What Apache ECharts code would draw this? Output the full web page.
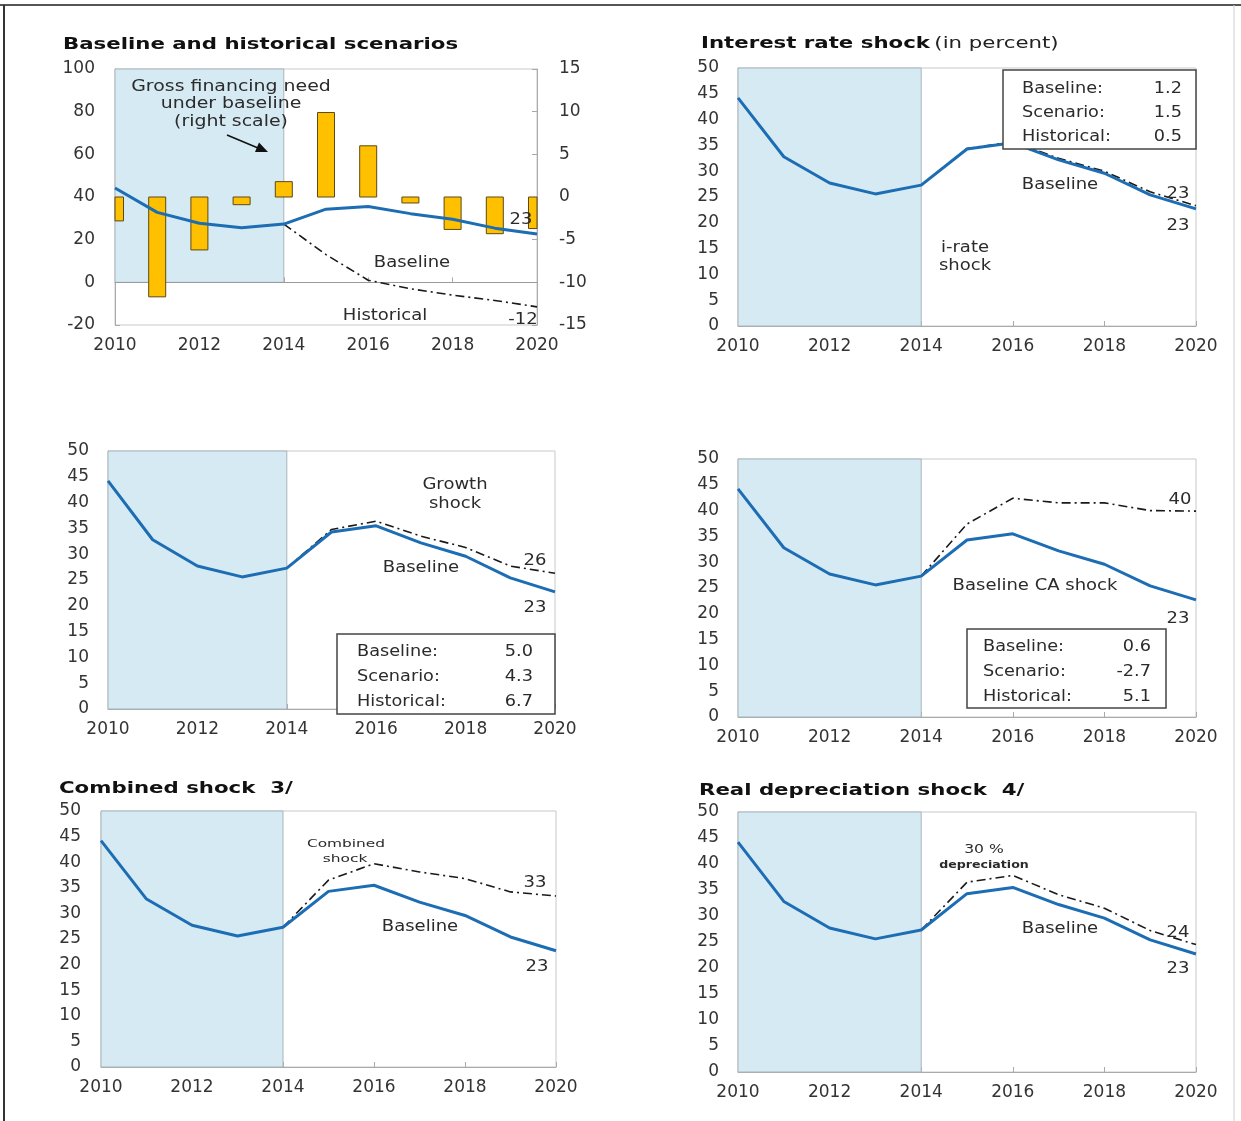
<!DOCTYPE html>
<html>
<head>
<meta charset="utf-8">
<script src="https://cdn.jsdelivr.net/npm/echarts@6/dist/echarts.min.js"></script>
<style>
  html, body { margin: 0; padding: 0; background: #fff; }
  #main { width: 1241px; height: 1121px; }
</style>
</head>
<body>
<div id="main"></div>
<script>
// data
var years = [2010, 2011, 2012, 2013, 2014, 2015, 2016, 2017, 2018, 2019, 2020];
var baseline = [44.2, 32.8, 27.7, 25.6, 27.3, 34.3, 35.5, 32.2, 29.6, 25.4, 22.7];
var historical = [null, null, null, null, 27.3, 13, 1, -3, -6, -8.5, -11.5];
var grossFinancingNeed = [-2.8, -11.7, -6.2, -0.9, 1.8, 9.9, 6.0, -0.7, -3.8, -4.3, -3.7];
var irateShock = [null, null, null, null, 27.3, 34.4, 35.7, 32.5, 30.0, 26.0, 23.3];
var growthShock = [null, null, null, null, 27.3, 34.8, 36.4, 33.5, 31.3, 27.7, 26.3];
var caShock = [null, null, null, null, 27.3, 37.4, 42.4, 41.5, 41.5, 40.0, 39.9];
var combinedShock = [null, null, null, null, 27.3, 36.5, 39.7, 38.1, 36.8, 34.2, 33.4];
var depreciationShock = [null, null, null, null, 27.3, 36.5, 37.8, 34.1, 31.5, 27.2, 24.5];

var boxLabels = ['Baseline:', 'Scenario:', 'Historical:'];
var irateBoxValues = ['1.2', '1.5', '0.5'];
var growthBoxValues = ['5.0', '4.3', '6.7'];
var caBoxValues = ['0.6', '-2.7', '5.1'];

var FONT = '"DejaVu Sans", Verdana, sans-serif';
var BLUE = '#1c6db4';
var SHADE = '#d6eaf3';
var DASHDOT = [9, 4, 2, 4];

function pairs(vals) {
  return years.map(function (y, i) { return [y, vals[i]]; });
}

var chart = echarts.init(document.getElementById('main'));

var grids = [
  { left: 115, top: 69, width: 422, height: 256 },
  { left: 738, top: 68, width: 458, height: 258 },
  { left: 108, top: 451, width: 447, height: 258 },
  { left: 738, top: 459, width: 458, height: 258 },
  { left: 101, top: 811, width: 455, height: 256 },
  { left: 738, top: 812, width: 458, height: 260 }
];
grids.forEach(function (g) {
  g.show = true;
  g.borderColor = '#c9c9c9';
  g.borderWidth = 1;
  g.containLabel = false;
});

var xAxes = grids.map(function (g, i) {
  return {
    type: 'value', gridIndex: i, min: 2010, max: 2020, interval: 2,
    splitLine: { show: false },
    axisLine: { lineStyle: { color: '#aaa' } },
    axisTick: { inside: true, length: 5, lineStyle: { color: '#aaa' } },
    axisLabel: { color: '#333', fontFamily: FONT, fontSize: 17, margin: 12,
      formatter: function (v) { return String(v); } }
  };
});

function yAxis(gi, min, max, step, pos, margin) {
  return {
    type: 'value', gridIndex: gi, min: min, max: max, interval: step, position: pos || 'left',
    splitLine: { show: false },
    axisLine: { show: true, lineStyle: { color: '#aaa' } },
    axisTick: { show: true, inside: true, length: 5, lineStyle: { color: '#aaa' } },
    axisLabel: { color: '#333', fontFamily: FONT, fontSize: 17, margin: margin || 19 }
  };
}

var yAxes = [
  yAxis(0, -20, 100, 20, 'left', 20),
  yAxis(0, -15, 15, 5, 'right', 22),
  yAxis(1, 0, 50, 5),
  yAxis(2, 0, 50, 5),
  yAxis(3, 0, 50, 5),
  yAxis(4, 0, 50, 5, 'left', 20),
  yAxis(5, 0, 50, 5)
];

function shadeArea(top) {
  return {
    silent: true, z: 1,
    itemStyle: { color: SHADE, borderColor: '#a9b4bc', borderWidth: 1 },
    data: [[{ coord: [2010, 0] }, { coord: [2014, top] }]]
  };
}

function baselineSeries(xi, yi, top, extra) {
  var s = {
    type: 'line', xAxisIndex: xi, yAxisIndex: yi, data: pairs(baseline),
    symbol: 'none', z: 4, lineStyle: { color: BLUE, width: 3 },
    markArea: shadeArea(top)
  };
  if (extra) s.markLine = extra;
  return s;
}

function shockSeries(xi, yi, vals) {
  return {
    type: 'line', xAxisIndex: xi, yAxisIndex: yi, data: pairs(vals),
    symbol: 'none', z: 3, connectNulls: false,
    lineStyle: { color: '#1a1a1a', width: 1.6, type: DASHDOT }
  };
}

// bars clipped to the plot area (half bars at 2010 and 2020)
var BAR_W = 17;
function renderBar(params, api) {
  var x = api.value(0);
  var v = api.value(1);
  var p0 = api.coord([x, 0]);
  var p1 = api.coord([x, v]);
  var rect = {
    x: p0[0] - BAR_W / 2,
    y: Math.min(p0[1], p1[1]),
    width: BAR_W,
    height: Math.abs(p1[1] - p0[1])
  };
  var cs = params.coordSys;
  var clipped = echarts.graphic.clipRectByRect(rect, { x: cs.x, y: cs.y, width: cs.width, height: cs.height });
  return clipped && {
    type: 'rect', shape: clipped,
    style: { fill: '#ffc000', stroke: '#5b4a14', lineWidth: 1 }
  };
}

var series = [
  {
    type: 'custom', xAxisIndex: 0, yAxisIndex: 1, data: pairs(grossFinancingNeed),
    renderItem: renderBar, encode: { x: 0, y: 1 }, z: 2
  },
  baselineSeries(0, 0, 100, {
    silent: true, symbol: 'none', z: 1,
    lineStyle: { color: '#9a9a9a', width: 1, type: 'solid' },
    label: { show: false },
    data: [{ yAxis: 0 }]
  }),
  shockSeries(0, 0, historical),
  baselineSeries(1, 2, 50),
  shockSeries(1, 2, irateShock),
  baselineSeries(2, 3, 50),
  shockSeries(2, 3, growthShock),
  baselineSeries(3, 4, 50),
  shockSeries(3, 4, caShock),
  baselineSeries(4, 5, 50),
  shockSeries(4, 5, combinedShock),
  baselineSeries(5, 6, 50),
  shockSeries(5, 6, depreciationShock)
];

// annotations
function txt(x, y, text, o) {
  o = o || {};
  return {
    type: 'text', x: x, y: y, scaleX: o.sx || 1.2, z: 100,
    style: {
      text: text, x: 0, y: 0,
      font: o.font || ('15px ' + FONT),
      fill: o.fill || '#2b2b2b',
      align: o.align || 'center', verticalAlign: 'middle'
    }
  };
}

function title(x, y, bold, normal) {
  var t = '{b|' + bold + '}' + (normal ? ' {n|' + normal + '}' : '');
  return {
    type: 'text', x: x, y: y, scaleX: 1.33, z: 100,
    style: {
      text: t, x: 0, y: 0, verticalAlign: 'middle', align: 'left',
      rich: {
        b: { font: 'bold 16px ' + FONT, fill: '#111' },
        n: { font: '16px ' + FONT, fill: '#222' }
      }
    }
  };
}

function box(x, y, w, h, lx, vx, ys, vals) {
  var els = [{
    type: 'rect', z: 99,
    shape: { x: x, y: y, width: w, height: h },
    style: { fill: '#fff', stroke: '#444', lineWidth: 1.5 }
  }];
  boxLabels.forEach(function (lab, i) {
    els.push(txt(lx, ys[i], lab, { align: 'left', sx: 1.18 }));
    els.push(txt(vx, ys[i], vals[i], { align: 'right', sx: 1.18 }));
  });
  return els;
}

var graphic = [
  // page frame
  { type: 'line', z: 100, shape: { x1: 0, y1: 5, x2: 1241, y2: 5 }, style: { stroke: '#555', lineWidth: 2 } },
  { type: 'line', z: 100, shape: { x1: 4, y1: 5, x2: 4, y2: 1121 }, style: { stroke: '#333', lineWidth: 2 } },
  { type: 'line', z: 100, shape: { x1: 1234, y1: 5, x2: 1234, y2: 1121 }, style: { stroke: '#cfcfcf', lineWidth: 1 } },

  // panel 1
  title(63, 45, 'Baseline and historical scenarios'),
  txt(231, 87, 'Gross financing need', { sx: 1.26 }),
  txt(231, 104, 'under baseline', { sx: 1.26 }),
  txt(231, 122, '(right scale)', { sx: 1.26 }),
  { type: 'line', z: 100, shape: { x1: 227, y1: 135, x2: 258, y2: 148 }, style: { stroke: '#111', lineWidth: 1.5 } },
  { type: 'polygon', z: 100, shape: { points: [[268, 152], [255, 152], [259, 142.5]] }, style: { fill: '#111' } },
  txt(412, 263, 'Baseline'),
  txt(385, 316, 'Historical'),
  txt(523, 320, '-12'),
  txt(521, 220, '23'),

  // panel 2
  title(701, 44, 'Interest rate shock', '(in percent)'),
  txt(1060, 185, 'Baseline'),
  txt(1178, 194, '23'),
  txt(1178, 226, '23'),
  txt(965, 248, 'i-rate'),
  txt(965, 266, 'shock'),

  // panel 3
  txt(455, 485, 'Growth'),
  txt(455, 504, 'shock'),
  txt(421, 568, 'Baseline'),
  txt(535, 561, '26'),
  txt(535, 608, '23'),

  // panel 4
  txt(1180, 500, '40'),
  txt(1035, 586, 'Baseline CA shock'),
  txt(1178, 619, '23'),

  // panel 5
  title(59, 789, 'Combined shock  3/'),
  txt(346, 844, 'Combined', { font: '11px ' + FONT, sx: 1.4 }),
  txt(345, 859, 'shock', { font: '11px ' + FONT, sx: 1.4 }),
  txt(535, 883, '33'),
  txt(420, 927, 'Baseline'),
  txt(537, 967, '23'),

  // panel 6
  title(699, 791, 'Real depreciation shock  4/'),
  txt(984, 850, '30 %', { font: '13px ' + FONT, sx: 1.2 }),
  txt(984, 865, 'depreciation', { font: 'bold 10.5px ' + FONT, sx: 1.2 }),
  txt(1060, 929, 'Baseline'),
  txt(1178, 933, '24'),
  txt(1178, 969, '23')
];

graphic = graphic
  .concat(box(1003, 70, 193, 79, 1022, 1182, [89, 113, 137], irateBoxValues))
  .concat(box(337, 634, 218, 80, 357, 533, [652, 677, 702], growthBoxValues))
  .concat(box(967, 629, 199, 79, 983, 1151, [647, 672, 697], caBoxValues));

chart.setOption({
  animation: false,
  backgroundColor: '#fff',
  grid: grids,
  xAxis: xAxes,
  yAxis: yAxes,
  series: series,
  graphic: graphic
});
</script>
</body>
</html>
